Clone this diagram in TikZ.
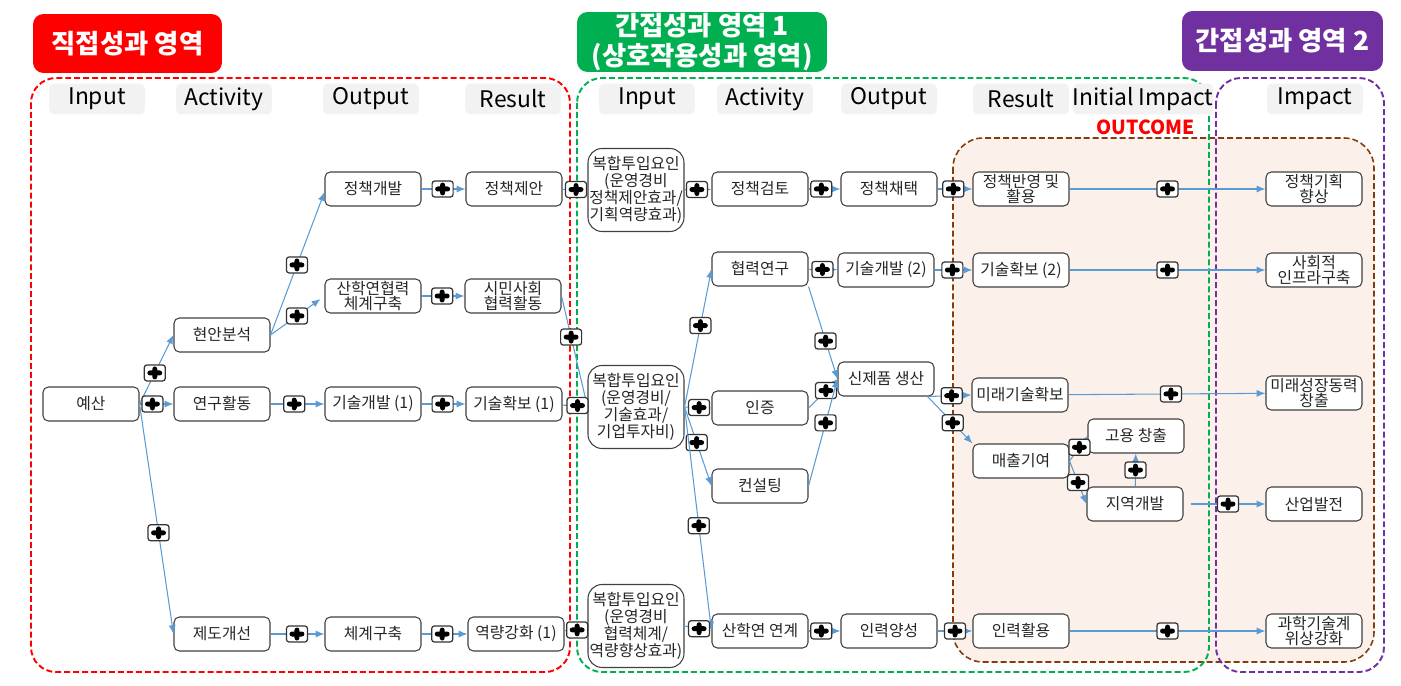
\documentclass[tikz,border=0pt]{standalone}
\usepackage{fontspec}
\setmainfont{Noto Sans CJK KR}
\usetikzlibrary{arrows.meta}

\definecolor{linkblue}{HTML}{5B9BD5}
\definecolor{zonered}{HTML}{FF0000}
\definecolor{zonegreen}{HTML}{00B050}
\definecolor{zonepurple}{HTML}{7030A0}
\definecolor{zonebrown}{HTML}{843C0C}
\definecolor{outfill}{HTML}{FBF1EA}
\definecolor{headgray}{HTML}{F2F2F2}

\tikzset{
  box/.style={draw=black!75, line width=0.6pt, rounded corners=3pt, fill=white, text=black!85,
    minimum width=1.92cm, minimum height=0.68cm, inner sep=0pt, align=center,
    font=\fontsize{9}{8.5}\selectfont},
  mixbox/.style={box, rounded corners=8pt, minimum height=1.66cm, font=\fontsize{9}{9.6}\selectfont},
  colhead/.style={fill=headgray, rounded corners=3pt, minimum width=1.92cm, minimum height=0.62cm,
    inner sep=0pt, font=\fontsize{13}{13}\selectfont},
  titlebox/.style={text=white, rounded corners=6pt, align=center, inner sep=0pt,
    font=\bfseries\fontsize{15}{17}\selectfont},
  zone/.style={line width=1.1pt, rounded corners=0.5cm, dash pattern=on 3.4pt off 1.7pt},
  link/.style={draw=linkblue, line width=0.6pt, -{Latex[length=5pt,width=4pt]}},
  feed/.style={link, arrows=-},
  plusbox/.style={draw=black!80, fill=white, rounded corners=1.5pt, line width=0.7pt,
    minimum width=0.42cm, minimum height=0.32cm, inner sep=0pt,
    path picture={
      \fill[black] ([xshift=-0.15cm,yshift=-0.05cm]path picture bounding box.center)
        rectangle ([xshift=0.15cm,yshift=0.05cm]path picture bounding box.center);
      \fill[black] ([xshift=-0.05cm,yshift=-0.13cm]path picture bounding box.center)
        rectangle ([xshift=0.05cm,yshift=0.13cm]path picture bounding box.center);}}
}

\begin{document}
\begin{tikzpicture}[x=0.02cm, y=-0.02cm]
    \useasboundingbox (0,0) rectangle (1401,686);

    \filldraw[zone, draw=zonebrown, fill=outfill, line width=0.9pt, rounded corners=0.6cm] (953,138) rectangle (1374,662);
    \draw[zone, zonered] (31,78) rectangle (570,672);
    \draw[zone, zonegreen] (577,78) rectangle (1209,672);
    \draw[zone, zonepurple] (1216,78) rectangle (1384,672);

    \node[titlebox, fill=zonered, minimum width=3.78cm, minimum height=1.18cm] (tdirect) at (127.5,43.5) {직접성과 영역};
    \node[titlebox, fill=zonegreen, minimum width=5cm, minimum height=1.2cm] (tinter) at (702,42) {간접성과 영역 1\\(상호작용성과 영역)};
    \node[titlebox, fill=zonepurple, minimum width=4.02cm, minimum height=1.2cm] (tindirect) at (1282.5,41) {간접성과 영역 2};
    \node[anchor=east, text=zonered, font=\bfseries\fontsize{11}{11}\selectfont] (outcome) at (1201,127) {OUTCOME};

    \node[colhead] (h1) at (97,99) {Input};
    \node[colhead] (h2) at (224,99) {Activity};
    \node[colhead] (h3) at (371,99) {Output};
    \node[colhead] (h4) at (513,99) {Result};
    \node[colhead] (h5) at (647,99) {Input};
    \node[colhead] (h6) at (765,99) {Activity};
    \node[colhead] (h7) at (889,99) {Output};
    \node[colhead] (h8) at (1021,99) {Result};
    \node[colhead, minimum width=2.62cm] (h9) at (1143,99) {Initial Impact};
    \node[colhead] (h10) at (1315,99) {Impact};

    \node[box] (yesan) at (91,404) {예산};
    \node[box] (hyunan) at (222,335) {현안분석};
    \node[box] (yeongu) at (222,404) {연구활동};
    \node[box] (jedo) at (222,634) {제도개선};
    \node[box] (jdev) at (373,189) {정책개발};
    \node[box] (sanhak) at (373,296) {산학연협력\\체계구축};
    \node[box] (tdev1) at (373,404) {기술개발 (1)};
    \node[box] (chegye) at (373,634) {체계구축};
    \node[box] (jprop) at (514,189) {정책제안};
    \node[box] (simin) at (513,296) {시민사회\\협력활동};
    \node[box] (tsec1) at (514,404) {기술확보 (1)};
    \node[box] (cap1) at (516,634) {역량강화 (1)};

    \node[mixbox] (mixA) at (636,190) {복합투입요인\\(운영경비\\정책제안효과/\\기획역량효과)};
    \node[mixbox] (mixB) at (636,407) {복합투입요인\\(운영경비/\\기술효과/\\기업투자비)};
    \node[mixbox] (mixC) at (636,626) {복합투입요인\\(운영경비\\협력체계/\\역량향상효과)};

    \node[box] (review) at (760,189) {정책검토};
    \node[box] (coop) at (760,269) {협력연구};
    \node[box] (cert) at (760,408) {인증};
    \node[box] (consult) at (760,486) {컨설팅};
    \node[box] (sanhaklink) at (760,631) {산학연 연계};
    \node[box] (adopt) at (889,189) {정책채택};
    \node[box] (tdev2) at (886,270) {기술개발 (2)};
    \node[box] (newprod) at (886,379) {신제품 생산};
    \node[box] (hr) at (889,631) {인력양성};

    \node[box] (reflect) at (1021,189) {정책반영 및\\활용};
    \node[box] (tsec2) at (1021,270) {기술확보 (2)};
    \node[box] (future) at (1020,395) {미래기술확보};
    \node[box] (sales) at (1021,461) {매출기여};
    \node[box] (hruse) at (1021,631) {인력활용};
    \node[box] (jobs) at (1136,436) {고용 창출};
    \node[box] (locdev) at (1135,504) {지역개발};

    \node[box] (plan) at (1314,189) {정책기획\\향상};
    \node[box] (infra) at (1314,270) {사회적\\인프라구축};
    \node[box] (growth) at (1314,393) {미래성장동력\\창출};
    \node[box] (industry) at (1314,504) {산업발전};
    \node[box] (status) at (1314,631) {과학기술계\\위상강화};

    \draw[link] (yesan.east) -- node[plusbox, pos=.45] (p1) {} (hyunan.west);
    \draw[link] (yesan.east) -- node[plusbox, pos=.38] (p2) {} (yeongu.west);
    \draw[link] (yesan.east) -- node[plusbox, pos=.56] (p3) {} (jedo.west);
    \draw[link] (hyunan.east) -- node[plusbox, pos=.49] (p4) {} ([yshift=-0.06cm]jdev.west);
    \draw[link] (hyunan.east) -- node[plusbox, pos=.53] (p5) {} ([xshift=-0.08cm,yshift=-0.06cm]sanhak.west);
    \draw[link] (yeongu) -- node[plusbox, pos=.44] (p6) {} (tdev1);
    \draw[link] (jedo) -- node[plusbox, pos=.49] (p7) {} (chegye);
    \draw[link] (jdev) -- node[plusbox, pos=.48] (p8) {} (jprop);
    \draw[link] (sanhak) -- node[plusbox, pos=.48] (p9) {} (simin);
    \draw[link] (tdev1) -- node[plusbox, pos=.48] (p10) {} (tsec1);
    \draw[link] (chegye) -- node[plusbox, pos=.45] (p11) {} (cap1);

    \draw[feed] (jprop) -- node[plusbox, pos=.54] (p12) {} (mixA);
    \draw[feed] (simin.east) -- node[plusbox, pos=.37] (p13) {} (mixB.west);
    \draw[feed] (tsec1) -- node[plusbox, pos=.6] (p14) {} (mixB);
    \draw[feed] (cap1) -- node[plusbox, pos=.55] (p15) {} (mixC);

    \draw[link] (mixA) -- node[plusbox, pos=.46] (p16) {} (review);
    \draw[link] (mixB.east) -- node[plusbox, pos=.59] (p17) {} (coop.west);
    \draw[link] (mixB.east) -- node[plusbox, pos=.54] (p18) {} (cert.west);
    \draw[link] (mixB.east) -- node[plusbox, pos=.45] (p19) {} (consult.west);
    \draw[link] (mixB.east) -- node[plusbox, pos=.53] (p20) {} (sanhaklink.west);
    \draw[link] (mixC.east) -- node[plusbox, pos=.54] (p21) {} (sanhaklink.west);

    \draw[link] (review) -- node[plusbox, pos=.4] (p22) {} (adopt);
    \draw[link] (coop) -- node[plusbox, pos=.48] (p23) {} (tdev2);
    \draw[link] (coop.south east) -- node[plusbox, pos=.59] (p24) {} (newprod.west);
    \draw[link] (cert.east) -- node[plusbox, pos=.6] (p25) {} (newprod.west);
    \draw[link] (consult.east) -- node[plusbox, pos=.59] (p26) {} (newprod.west);
    \draw[link] (sanhaklink) -- node[plusbox, pos=.4] (p27) {} (hr);
    \draw[link] (adopt) -- node[plusbox, pos=.45] (p28) {} (reflect);
    \draw[link] (tdev2) -- node[plusbox, pos=.47] (p29) {} (tsec2);
    \draw[link] ([xshift=-0.14cm]newprod.south east) -- node[plusbox, pos=.55] (p30) {} (future.west);
    \draw[link] ([xshift=-0.14cm]newprod.south east) -- node[plusbox, pos=.56] (p31) {} (sales.north west);
    \draw[link] (hr) -- node[plusbox, pos=.5] (p32) {} (hruse);

    \draw[link] (reflect) -- node[plusbox, pos=.5] (p33) {} (plan);
    \draw[link] (tsec2) -- node[plusbox, pos=.5] (p34) {} (infra);
    \draw[link] (future) -- node[plusbox, pos=.52] (p35) {} (growth);
    \draw[link] (sales.east) -- node[plusbox, pos=.55] (p36) {} (jobs.west);
    \draw[link] (sales.east) -- node[plusbox, pos=.5] (p37) {} (locdev.west);
    \draw[link] (locdev) -- node[plusbox, pos=.5] (p38) {} (jobs);
    \draw[link] ([xshift=0.14cm]locdev.east) -- node[plusbox, pos=.5] (p39) {} (industry.west);
    \draw[link] (hruse) -- node[plusbox, pos=.5] (p40) {} (status);
\end{tikzpicture}
\end{document}
